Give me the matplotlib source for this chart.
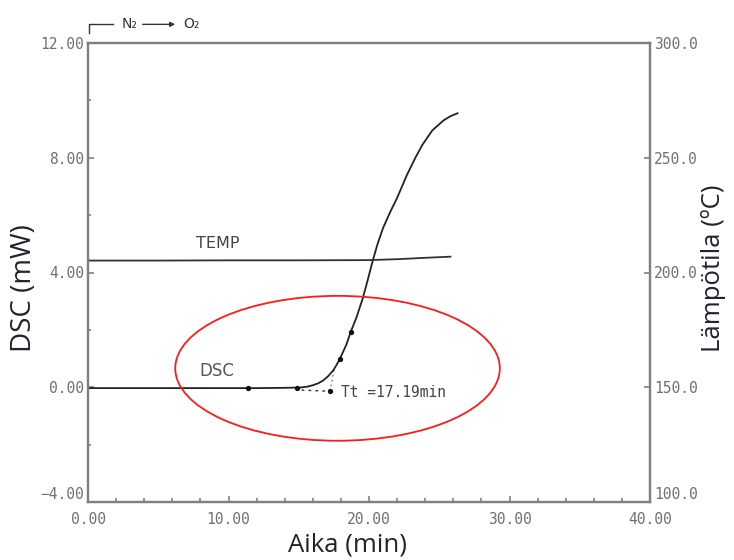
import matplotlib.pyplot as plt
from matplotlib.patches import Ellipse
from matplotlib.ticker import MultipleLocator, FuncFormatter

# DSC trace (min, mW)
aika = [0.0, 2.0, 4.0, 6.0, 8.0, 10.0, 12.0, 14.0, 15.1, 15.6, 16.0, 16.4, 16.75,
        17.1, 17.46, 17.75, 18.05, 18.4, 18.7, 19.12, 19.55, 19.9, 20.26, 20.6,
        21.0, 21.5, 22.0, 22.7, 23.3, 23.8, 24.5, 25.3, 25.8, 26.3]
dsc = [-0.03, -0.03, -0.03, -0.03, -0.03, -0.03, -0.03, -0.02, -0.01, 0.02, 0.07, 0.14, 0.24,
       0.39, 0.59, 0.83, 1.12, 1.5, 1.93, 2.45, 3.09, 3.72, 4.40, 4.98,
       5.55, 6.1, 6.6, 7.4, 8.0, 8.45, 8.95, 9.3, 9.45, 9.55]

# temperature trace (min, degC)
temp_aika = [0.0, 5.0, 10.0, 15.0, 20.0, 22.0, 24.0, 25.8]
temp = [205.2, 205.2, 205.3, 205.3, 205.4, 205.8, 206.4, 206.9]

# marker dots on the curve
piste_aika = [11.4, 14.9, 17.22, 17.95, 18.7]
piste_dsc = [-0.03, -0.03, -0.14, 1.0, 1.93]

# onset construction
tt_teksti = "Tt =17.19min"
pohja_aika = [15.2, 17.22]
pohja_dsc = [-0.1, -0.14]
tangentti_aika = [17.22, 17.55]
tangentti_dsc = [-0.14, 0.7]

# red highlight ellipse (centre, width, height in data units)
ellipsi_keski = (17.76, 0.66)
ellipsi_lev = 23.1
ellipsi_kor = 5.05

tick_family = "DejaVu Sans Mono"
tick_color = "#707070"
label_color = "#23232f"
spine_color = "#808080"
label_family = "Open Sans"

fig = plt.figure(figsize=(7.34, 5.6), dpi=100)
ax = fig.add_axes([88 / 734, 1 - 502 / 560, 562 / 734, 459 / 560])
ax2 = ax.twinx()

ax.set_xlim(0, 40)
ax.set_ylim(-4, 12)
ax2.set_ylim(100, 300)

ax.plot(aika, dsc, color="#222222", lw=1.3, zorder=3)
ax.plot(piste_aika, piste_dsc, "o", color="#111111", ms=2.8, zorder=4)
ax.plot(pohja_aika, pohja_dsc, ls=(0, (2, 3)), color="#333333", lw=1.0)
ax.plot(tangentti_aika, tangentti_dsc, ls=(0, (1.5, 3)), color="#555555", lw=0.8)
ax2.plot(temp_aika, temp, color="#333333", lw=1.3)

ax.add_patch(Ellipse(ellipsi_keski, ellipsi_lev, ellipsi_kor, fill=False,
                     edgecolor="#ff1a1a", lw=1.3, zorder=5))

ax.text(9.2, 5.0, "TEMP", fontsize=11.5, color="#444444", ha="center", va="center")
ax.text(9.2, 0.55, "DSC", fontsize=12, color="#555555", ha="center", va="center")
ax.text(18.0, -0.2, tt_teksti, fontsize=10.5, color="#444444",
        ha="left", va="center", family=tick_family)

# N2 -> O2 switch marker above the plot
ax.plot([0.05, 0.05, 1.78], [12.34, 12.65, 12.65], color="#333333", lw=1.0, clip_on=False)
ax.text(2.4, 12.65, "N\u2082", fontsize=10, color="#333333", va="center", ha="left")
ax.annotate("", xy=(6.4, 12.65), xytext=(3.7, 12.65), annotation_clip=False,
            arrowprops=dict(arrowstyle="-|>", color="#333333", lw=1.0, mutation_scale=7))
ax.text(6.8, 12.65, "O\u2082", fontsize=10, color="#333333", va="center", ha="left")

for a in (ax, ax2):
    for s in a.spines.values():
        s.set_color(spine_color)
        s.set_linewidth(1.6)


def fmt(dec):
    return FuncFormatter(lambda v, p: f"{v:.{dec}f}".replace("-", "\u2212"))


ax.xaxis.set_major_locator(MultipleLocator(10))
ax.xaxis.set_minor_locator(MultipleLocator(2))
ax.yaxis.set_major_locator(MultipleLocator(4))
ax.yaxis.set_minor_locator(MultipleLocator(2))
ax2.yaxis.set_major_locator(MultipleLocator(50))
ax.xaxis.set_major_formatter(fmt(2))
ax.yaxis.set_major_formatter(fmt(2))
ax2.yaxis.set_major_formatter(fmt(1))

ax.tick_params(which="both", direction="in", color=spine_color, width=1.2)
ax.tick_params(which="major", length=4, pad=3)
ax.tick_params(axis="x", which="major", pad=7)
ax.tick_params(which="minor", length=3)
ax.tick_params(axis="y", which="minor", length=2)
ax2.tick_params(direction="in", color=spine_color, width=1.2, length=4, pad=3)

fig.canvas.draw()
for lab in ax.get_xticklabels() + ax.get_yticklabels() + ax2.get_yticklabels():
    lab.set_fontfamily(tick_family)
    lab.set_fontsize(10.5)
    lab.set_color(tick_color)
    # lowest labels sit a little above their tick, as in the reference
    if lab.get_text() in ("\u22124.00", "100.0"):
        lab.set_verticalalignment("bottom")

fig.text(24 / 734, 1 - 288 / 560, "DSC (mW)", rotation=90, ha="center", va="center",
         fontsize=20, color=label_color, family=label_family)
fig.text(713 / 734, 1 - 268 / 560, "Lämpötila (ºC)", rotation=90, ha="center", va="center",
         fontsize=18.5, color=label_color, family=label_family)
fig.text(348 / 734, 1 - 545 / 560, "Aika (min)", ha="center", va="center",
         fontsize=18.5, color=label_color, family=label_family)

fig.savefig("out.png", dpi=100)
